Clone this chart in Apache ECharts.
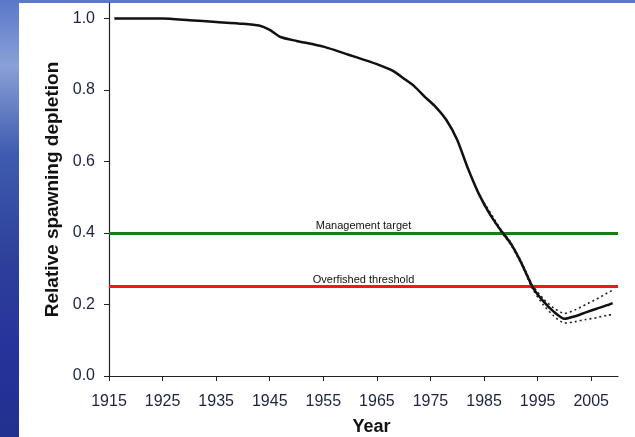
<!DOCTYPE html>
<html><head><meta charset="utf-8">
<script src="https://cdn.jsdelivr.net/npm/echarts@6/dist/echarts.min.js"></script>
<style>
html,body{margin:0;padding:0;width:635px;height:437px;overflow:hidden;
background:linear-gradient(180deg,#5a78c8 0%,#8aa0d6 15%,#3f5cb0 35%,#2d3f9a 60%,#27339a 80%,#22308e 100%);}
#white{position:absolute;left:19px;top:3px;width:616px;height:434px;background:#fff;}
#c{position:absolute;left:0;top:0;width:635px;height:437px;}
</style></head>
<body>
<div id="white"></div>
<div id="c"></div>
<script>
const years = [1916,1920,1925,1930,1935,1940,1943,1945,1947,1950,1955,1960,1965,1968,1970,1972,1974,1976,1978,1980,1982,1984,1986,1988,1990,1992,1994,1996,1998,2000,2002,2004,2006,2008,2009];
const depletion = [1.0,1.0,1.0,0.995,0.99,0.985,0.98,0.968,0.948,0.937,0.921,0.897,0.872,0.853,0.832,0.81,0.78,0.752,0.715,0.66,0.58,0.51,0.455,0.41,0.37,0.315,0.25,0.21,0.18,0.16,0.167,0.178,0.188,0.198,0.204];
const ciYears = [1985,1988,1990,1992,1994,1996,1998,2000,2002,2004,2006,2008,2009];
const upper = [0.485,0.413,0.373,0.318,0.255,0.217,0.19,0.175,0.185,0.2,0.215,0.232,0.24];
const lower = [0.478,0.407,0.367,0.312,0.245,0.2,0.168,0.148,0.152,0.158,0.163,0.17,0.172];
const xTicks = [1915,1925,1935,1945,1955,1965,1975,1985,1995,2005];
const yTicks = [0,0.2,0.4,0.6,0.8,1.0];
const targetLevel = 0.4, thresholdLevel = 0.25;

const chart = echarts.init(document.getElementById('c'));
const font = 'Arial, "Liberation Sans", sans-serif';
chart.setOption({
  animation:false,
  grid:{left:109,right:17,top:3,bottom:61,containLabel:false,outerBoundsMode:'none'},
  xAxis:{type:'value',min:1915,max:2010,name:'Year',nameLocation:'middle',nameGap:42,
    nameTextStyle:{fontFamily:font,fontSize:18,fontWeight:'bold',color:'#111',padding:[0,0,0,16]},
    axisLine:{lineStyle:{color:'#222',width:1.2}},
    axisTick:{customValues:xTicks,length:5,lineStyle:{color:'#222'}},
    axisLabel:{customValues:xTicks,fontFamily:font,fontSize:16,color:'#1c2440',margin:18,formatter:v=>String(v)},
    splitLine:{show:false}},
  yAxis:{type:'value',min:0,max:1.043,name:'Relative spawning depletion',nameLocation:'middle',nameGap:46,
    nameTextStyle:{fontFamily:font,fontSize:19,fontWeight:'bold',color:'#111'},
    axisLine:{show:true,lineStyle:{color:'#222',width:1.2}},
    axisTick:{show:true,customValues:yTicks,length:5,lineStyle:{color:'#222'}},
    axisLabel:{customValues:yTicks,fontFamily:font,fontSize:16,color:'#1c2440',margin:14,formatter:v=>v.toFixed(1)},
    splitLine:{show:false}},
  series:[
    {type:'line',data:years.map((y,i)=>[y,depletion[i]]),showSymbol:false,smooth:0.2,
     lineStyle:{color:'#111',width:2.5},z:5,
     markLine:{silent:true,symbol:'none',
       data:[
        {yAxis:targetLevel,lineStyle:{color:'#118011',width:3,type:'solid'},
         label:{show:true,formatter:'Management target',position:'insideMiddleTop',fontFamily:font,fontSize:11,color:'#111',distance:1}},
        {yAxis:thresholdLevel,lineStyle:{color:'#f01818',width:3,type:'solid'},
         label:{show:true,formatter:'Overfished threshold',position:'insideMiddleTop',fontFamily:font,fontSize:11,color:'#111',distance:1}}
       ]}},
    {type:'line',data:ciYears.map((y,i)=>[y,upper[i]]),showSymbol:false,smooth:0.2,
     lineStyle:{color:'#222',width:1.6,type:[2,3]},z:4},
    {type:'line',data:ciYears.map((y,i)=>[y,lower[i]]),showSymbol:false,smooth:0.2,
     lineStyle:{color:'#222',width:1.6,type:[2,3]},z:4}
  ]
});
</script>
</body></html>
